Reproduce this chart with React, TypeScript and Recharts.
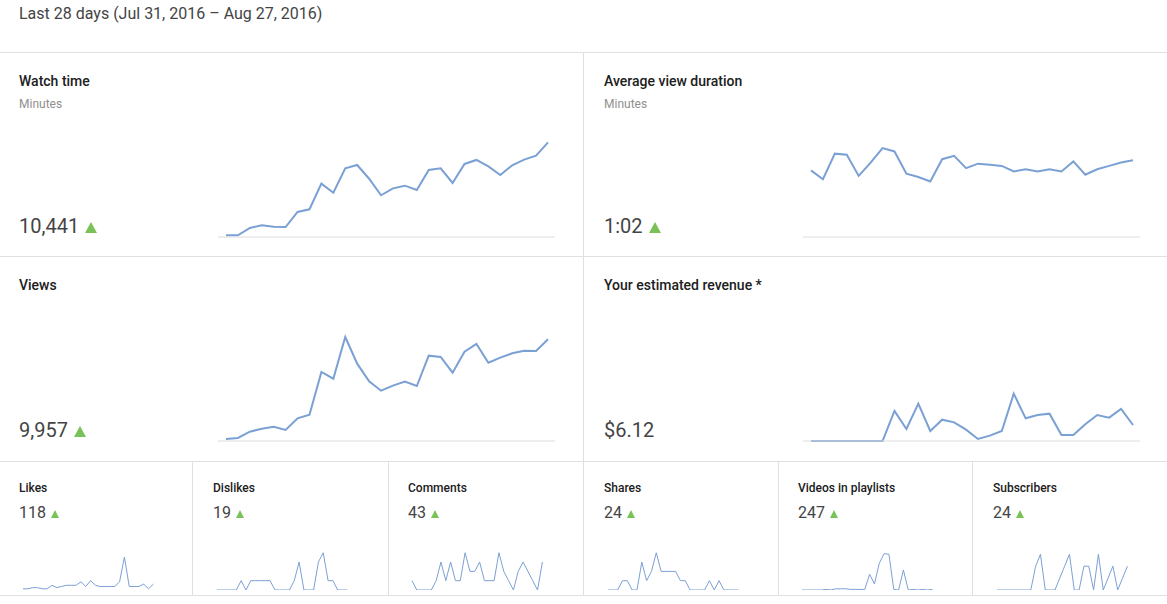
import React from "react";
import { LineChart, Line, XAxis, YAxis } from "recharts";

const days = [
  "Jul 31", "Aug 1", "Aug 2", "Aug 3", "Aug 4", "Aug 5", "Aug 6", "Aug 7",
  "Aug 8", "Aug 9", "Aug 10", "Aug 11", "Aug 12", "Aug 13", "Aug 14", "Aug 15",
  "Aug 16", "Aug 17", "Aug 18", "Aug 19", "Aug 20", "Aug 21", "Aug 22", "Aug 23",
  "Aug 24", "Aug 25", "Aug 26", "Aug 27",
];

// minutes per day
const watchTime = [13, 13, 68, 88, 77, 75, 188, 208, 400, 332, 515, 540, 437, 313, 365, 385, 353, 503, 515, 405, 548, 578, 530, 465, 538, 580, 610, 710];
// seconds
const avgViewDuration = [60, 52, 75, 74, 55, 67, 80, 77, 57, 54, 50, 70, 73, 62, 66, 65, 64, 59, 61, 59, 61, 59, 68, 56, 61, 64, 67, 69];
const views = [12, 18, 56, 74, 86, 66, 136, 158, 414, 374, 624, 464, 358, 302, 332, 356, 330, 512, 504, 410, 536, 582, 470, 500, 526, 542, 540, 610];
const revenue = [0, 0, 0, 0, 0, 0, 0, 0.45, 0.18, 0.56, 0.15, 0.32, 0.28, 0.17, 0.03, 0.08, 0.15, 0.71, 0.34, 0.39, 0.41, 0.09, 0.09, 0.25, 0.39, 0.35, 0.48, 0.24];
const likes = [1, 1, 2, 2, 1, 1, 4, 2, 3, 4, 4, 4, 7, 3, 8, 4, 3, 3, 3, 3, 7, 28, 3, 3, 3, 5, 1, 5];
const dislikes = [0, 0, 0, 0, 0, 1, 0, 1, 1, 1, 1, 1, 0, 0, 0, 0, 1, 3, 0, 0, 0, 3, 4, 1, 1, 0, 0, 0];
const comments = [1, 0, 0, 0, 0, 1, 3, 1, 3, 1, 1, 4, 2, 2, 3, 1, 1, 1, 4, 2, 1, 0, 2, 3, 2, 1, 0, 3];
const shares = [0, 0, 0, 1, 1, 0, 0, 3, 1, 2, 4, 2, 2, 2, 2, 1, 1, 0, 0, 0, 0, 1, 0, 1, 0, 0, 0, 0];
const playlists = [0, 0, 0, 0, 0, 1, 0, 2, 2, 2, 1, 1, 1, 1, 26, 10, 44, 60, 59, 1, 0, 33, 0, 1, 0, 1, 0, 1];
const subscribers = [0, 0, 0, 0, 0, 0, 0, 0, 2, 3, 0, 0, 0, 1, 2, 3, 0, 0, 2, 2, 0, 3, 0, 1, 2, 0, 1, 2];

const headerText = "Last 28 days (Jul 31, 2016 – Aug 27, 2016)";

const bigCards = [
  { title: "Watch time", sub: "Minutes", value: "10,441", up: true, key: "watchTime", yMax: 825 },
  { title: "Average view duration", sub: "Minutes", value: "1:02", up: true, key: "avgViewDuration", yMax: 99 },
  { title: "Views", sub: "", value: "9,957", up: true, key: "views", yMax: 660 },
  { title: "Your estimated revenue *", sub: "", value: "$6.12", up: false, key: "revenue", yMax: 1.65 },
];

const smallCards = [
  { title: "Likes", value: "118", key: "likes", yMax: 34 },
  { title: "Dislikes", value: "19", key: "dislikes", yMax: 4.29 },
  { title: "Comments", value: "43", key: "comments", yMax: 4.29 },
  { title: "Shares", value: "24", key: "shares", yMax: 4.3 },
  { title: "Videos in playlists", value: "247", key: "playlists", yMax: 66 },
  { title: "Subscribers", value: "24", key: "subscribers", yMax: 3.36 },
];

const rows = days.map((day, i) => ({
  day,
  watchTime: watchTime[i],
  avgViewDuration: avgViewDuration[i],
  views: views[i],
  revenue: revenue[i],
  likes: likes[i],
  dislikes: dislikes[i],
  comments: comments[i],
  shares: shares[i],
  playlists: playlists[i],
  subscribers: subscribers[i],
}));

const LINE = "#7aa0d4";
const BORDER = "#e0e0e0";
const GREEN = "#79c257";
const FONT = "Roboto, 'Noto Sans', Arial, sans-serif";

function Triangle({ w, h, ml }: { w: number; h: number; ml: number }) {
  return (
    <span
      style={{
        display: "inline-block",
        width: 0,
        height: 0,
        marginLeft: ml,
        borderLeft: `${w / 2}px solid transparent`,
        borderRight: `${w / 2}px solid transparent`,
        borderBottom: `${h}px solid ${GREEN}`,
      }}
    />
  );
}

function HLine({ top }: { top: number }) {
  return <div style={{ position: "absolute", left: 0, top, width: 1167, height: 1, background: BORDER }} />;
}
function VLine({ left, top, height }: { left: number; top: number; height: number }) {
  return <div style={{ position: "absolute", left, top, width: 1, height, background: BORDER }} />;
}

function BigCard({ card, x, y }: { card: any; x: number; y: number }) {
  return (
    <>
      <div style={{ position: "absolute", left: x + 19, top: y + 21, fontSize: 14, fontWeight: 500, color: "#202020", whiteSpace: "nowrap" }}>
        {card.title}
      </div>
      {card.sub ? (
        <div style={{ position: "absolute", left: x + 19, top: y + 45, fontSize: 12, color: "#8f8f8f", whiteSpace: "nowrap" }}>
          {card.sub}
        </div>
      ) : null}
      <div style={{ position: "absolute", left: x + 19, top: y + 162.4, fontSize: 20, color: "#444", whiteSpace: "nowrap" }}>
        {card.value}
        {card.up ? <Triangle w={12} h={11} ml={6} /> : null}
      </div>
      <div style={{ position: "absolute", left: x + 218, top: y + 74.5 }}>
        <LineChart width={337} height={111} data={rows} margin={{ top: 0, right: 0, bottom: 0, left: 0 }}>
          <XAxis
            dataKey="day"
            height={1}
            tick={false}
            tickLine={false}
            axisLine={{ stroke: "#dcdcdc" }}
            padding={{ left: 8, right: 7 }}
            interval={0}
          />
          <YAxis hide width={0} domain={[0, card.yMax]} />
          <Line
            type="linear"
            dataKey={card.key}
            stroke={LINE}
            strokeWidth={2}
            dot={false}
            activeDot={false}
            isAnimationActive={false}
          />
        </LineChart>
      </div>
    </>
  );
}

function SmallCard({ card, textX }: { card: any; textX: number }) {
  return (
    <>
      <div style={{ position: "absolute", left: textX, top: 480.6, fontSize: 12, fontWeight: 500, color: "#202020", whiteSpace: "nowrap" }}>
        {card.title}
      </div>
      <div style={{ position: "absolute", left: textX, top: 502.5, fontSize: 16, color: "#444", whiteSpace: "nowrap" }}>
        {card.value}
        <Triangle w={9} h={8} ml={5} />
      </div>
      <div style={{ position: "absolute", left: textX + 4.3 - 2, top: 548 }}>
        <LineChart width={134.4} height={42} data={rows} margin={{ top: 2, right: 2, bottom: 0, left: 2 }}>
          <XAxis dataKey="day" hide />
          <YAxis hide width={0} domain={[0, card.yMax]} />
          <Line
            type="linear"
            dataKey={card.key}
            stroke={LINE}
            strokeWidth={1}
            dot={false}
            activeDot={false}
            isAnimationActive={false}
          />
        </LineChart>
      </div>
    </>
  );
}

const smallTextX = [19, 213, 408, 604, 798, 993];

export default function App() {
  return (
    <div
      style={{
        position: "absolute",
        left: 0,
        top: 0,
        width: 1167,
        height: 604,
        background: "#fff",
        overflow: "hidden",
        fontFamily: FONT,
        lineHeight: "normal",
      }}
    >
      <div style={{ position: "absolute", left: 19, top: 4, fontSize: 16, color: "#444", whiteSpace: "nowrap" }}>
        {headerText}
      </div>
      <HLine top={52} />
      <HLine top={256} />
      <HLine top={461} />
      <HLine top={595} />
      <VLine left={583} top={52} height={409} />
      {[192, 388, 583, 778, 972].map((x) => (
        <VLine key={x} left={x} top={461} height={134} />
      ))}
      <BigCard card={bigCards[0]} x={0} y={52} />
      <BigCard card={bigCards[1]} x={585} y={52} />
      <BigCard card={bigCards[2]} x={0} y={256} />
      <BigCard card={bigCards[3]} x={585} y={256} />
      {smallCards.map((c, i) => (
        <SmallCard key={c.key} card={c} textX={smallTextX[i]} />
      ))}
    </div>
  );
}
